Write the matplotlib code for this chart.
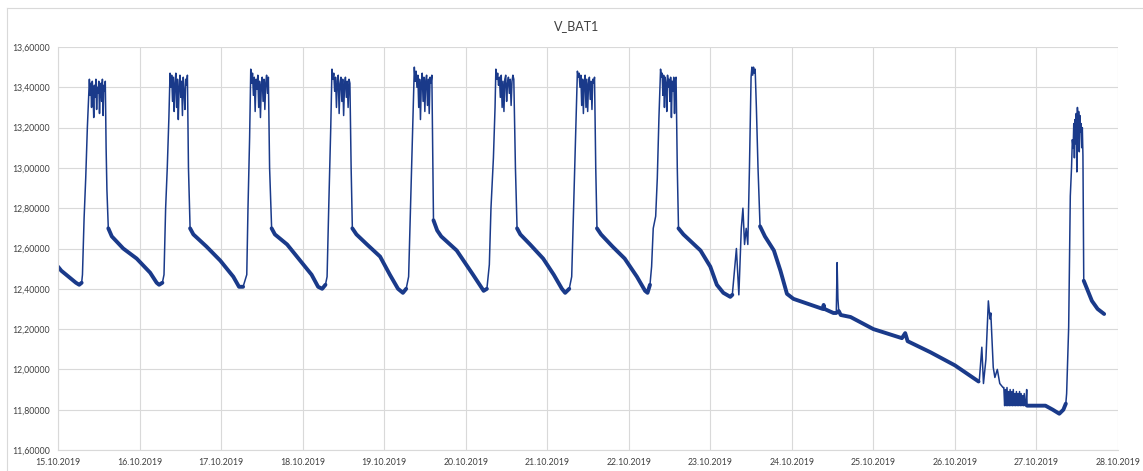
"""
V_BAT1 battery voltage trace, 15.10.2019 - 28.10.2019.
"""
import numpy as np
import matplotlib
matplotlib.use("Agg")
import matplotlib.pyplot as plt
from matplotlib.lines import Line2D

# x values are days since 15.10.2019 00:00, y values are volts

# slow part of the curve (discharge slopes, rises, spikes)
base_t = [
    0.00, 0.04, 0.10, 0.16, 0.22, 0.26, 0.29, 0.30, 0.32, 0.34, 0.36,
    0.59, 0.60, 0.617, 0.66, 0.80, 0.965, 1.13, 1.21, 1.24, 1.28, 1.30, 1.32, 1.34, 1.36,
    1.60, 1.62, 1.66, 1.82, 1.99, 2.15, 2.22, 2.27, 2.315, 2.33, 2.35,
    2.595, 2.62, 2.66, 2.81, 2.95, 3.11, 3.19, 3.24, 3.28, 3.30, 3.32, 3.345,
    3.595, 3.61, 3.66, 3.79, 3.95, 4.07, 4.17, 4.23, 4.27, 4.30, 4.32, 4.35,
    4.605, 4.65, 4.70, 4.89, 5.09, 5.22, 5.26, 5.29, 5.31, 5.34, 5.36,
    5.61, 5.63, 5.67, 5.79, 5.95, 6.08, 6.18, 6.22, 6.27, 6.30, 6.32, 6.35,
    6.595, 6.61, 6.66, 6.80, 6.95, 7.10, 7.20, 7.23, 7.26, 7.28, 7.30, 7.33, 7.35, 7.37,
    7.595, 7.61, 7.67, 7.88, 8.00, 8.08, 8.16, 8.245, 8.27, 8.32, 8.35, 8.38, 8.40,
    8.42, 8.44, 8.46, 8.48, 8.50, 8.51, 8.52, 8.53, 8.54, 8.55, 8.565, 8.585, 8.61,
    8.67, 8.78, 8.86, 8.94, 9.02, 9.31, 9.38, 9.39, 9.40, 9.51, 9.545, 9.555, 9.565,
    9.575, 9.60, 9.72, 10.00, 10.35, 10.39, 10.42, 10.70, 11.00, 11.29, 11.30, 11.33,
    11.35, 11.38, 11.41, 11.43, 11.44, 11.47, 11.49, 11.52, 11.55, 11.59,
    11.87, 11.88, 11.885, 12.11, 12.20, 12.28, 12.33, 12.36, 12.37, 12.395, 12.415,
    12.43, 12.44,
    12.58, 12.61, 12.68, 12.75, 12.83,
]
base_v = [
    12.51, 12.49, 12.47, 12.45, 12.43, 12.42, 12.43, 12.47, 12.75, 12.95, 13.20,
    13.10, 12.89, 12.70, 12.66, 12.60, 12.55, 12.48, 12.43, 12.42, 12.43, 12.47, 12.80, 13.00, 13.25,
    13.00, 12.70, 12.67, 12.61, 12.54, 12.46, 12.41, 12.41, 12.47, 12.80, 13.15,
    13.00, 12.70, 12.67, 12.62, 12.55, 12.47, 12.41, 12.40, 12.42, 12.46, 12.80, 13.20,
    13.00, 12.70, 12.67, 12.62, 12.56, 12.47, 12.40, 12.38, 12.40, 12.46, 12.75, 13.20,
    12.74, 12.69, 12.66, 12.59, 12.47, 12.39, 12.40, 12.52, 12.80, 13.05, 13.30,
    13.00, 12.70, 12.67, 12.62, 12.55, 12.47, 12.40, 12.38, 12.40, 12.46, 12.75, 13.20,
    13.00, 12.70, 12.67, 12.61, 12.55, 12.46, 12.39, 12.38, 12.42, 12.51, 12.70, 12.76, 12.95, 13.25,
    13.00, 12.70, 12.67, 12.59, 12.51, 12.42, 12.38, 12.36, 12.37, 12.60, 12.37, 12.70, 12.80,
    12.62, 12.70, 12.62, 13.00, 13.45, 13.50, 13.46, 13.50, 13.47, 13.49, 13.30, 13.00, 12.71,
    12.66, 12.59, 12.49, 12.375, 12.35, 12.31, 12.30, 12.32, 12.30, 12.28, 12.28, 12.53, 12.35,
    12.29, 12.27, 12.26, 12.20, 12.155, 12.18, 12.14, 12.085, 12.02, 11.94, 11.95, 12.11,
    11.93, 12.05, 12.34, 12.25, 12.28, 12.01, 11.96, 12.00, 11.93, 11.91,
    11.82, 11.90, 11.82, 11.82, 11.80, 11.78, 11.80, 11.83, 11.88, 12.21, 12.86,
    13.00, 13.14,
    12.44, 12.41, 12.34, 12.30, 12.275,
]

# charging plateaus (noisy top of each cycle): start day, end day, values
plateau_start = [0.385, 1.374, 2.364, 3.36, 4.37, 5.37, 6.37, 7.39]
plateau_end = [0.58, 1.587, 2.58, 3.58, 4.585, 5.59, 6.58, 7.58]
plateau_values = [
    [13.44, 13.36, 13.42, 13.30, 13.43, 13.38, 13.25, 13.41, 13.35, 13.44, 13.29, 13.40,
     13.37, 13.43, 13.27, 13.39, 13.42, 13.33, 13.44, 13.26, 13.41, 13.38, 13.43],
    [13.47, 13.40, 13.46, 13.33, 13.45, 13.28, 13.42, 13.47, 13.30, 13.44, 13.24, 13.40,
     13.46, 13.35, 13.43, 13.26, 13.45, 13.38, 13.29, 13.44, 13.41, 13.46],
    [13.49, 13.42, 13.47, 13.36, 13.45, 13.28, 13.44, 13.39, 13.46, 13.30, 13.43, 13.25,
     13.41, 13.45, 13.33, 13.44, 13.29, 13.42, 13.46, 13.37, 13.45],
    [13.49, 13.44, 13.47, 13.38, 13.45, 13.30, 13.43, 13.46, 13.27, 13.42, 13.45, 13.33,
     13.44, 13.26, 13.41, 13.45, 13.35, 13.43, 13.30, 13.44, 13.42],
    [13.50, 13.43, 13.48, 13.40, 13.46, 13.30, 13.44, 13.24, 13.42, 13.47, 13.33, 13.45,
     13.28, 13.43, 13.46, 13.31, 13.44, 13.27, 13.45, 13.42, 13.46],
    [13.49, 13.44, 13.47, 13.41, 13.45, 13.35, 13.46, 13.30, 13.43, 13.28, 13.44, 13.46,
     13.33, 13.42, 13.45, 13.37, 13.44, 13.31, 13.43, 13.46, 13.44],
    [13.48, 13.45, 13.47, 13.40, 13.46, 13.31, 13.44, 13.27, 13.43, 13.46, 13.30, 13.44,
     13.28, 13.42, 13.45, 13.34, 13.43, 13.29, 13.44, 13.42, 13.45],
    [13.49, 13.45, 13.47, 13.36, 13.46, 13.30, 13.45, 13.42, 13.28, 13.46, 13.40, 13.44,
     13.33, 13.45, 13.25, 13.43, 13.38, 13.45, 13.27, 13.44, 13.45],
]

# clipped section on 26.10 (logger floor at 11.82 V)
clip_start, clip_end = 11.60, 11.86
clip_values = [11.91, 11.82, 11.90, 11.82, 11.91, 11.82, 11.89, 11.82, 11.90, 11.82,
               11.89, 11.82, 11.90, 11.82, 11.88, 11.82, 11.89, 11.82, 11.88, 11.82,
               11.89, 11.82, 11.88, 11.82, 11.87, 11.82, 11.88, 11.82]

# last charge on 27.10
peak_start, peak_end = 12.45, 12.57
peak_values = [13.10, 13.22, 13.05, 13.24, 13.12, 13.27, 12.98, 13.30, 13.15, 13.28,
               13.08, 13.26, 13.18, 13.22, 13.10, 13.20, 13.06]

# stretches where the sampled noise makes the trace look like a wide band
band_start = [0.00, 0.617, 1.62, 2.62, 3.61, 4.605, 5.63, 6.61, 7.61, 8.61, 9.575, 11.885, 12.58]
band_end = [0.29, 1.28, 2.27, 3.28, 4.27, 5.26, 6.27, 7.26, 8.27, 9.545, 11.29, 12.36, 12.83]

day_labels = ["15.10.2019", "16.10.2019", "17.10.2019", "18.10.2019", "19.10.2019",
              "20.10.2019", "21.10.2019", "22.10.2019", "23.10.2019", "24.10.2019",
              "25.10.2019", "26.10.2019", "27.10.2019", "28.10.2019"]

# assemble the trace
t_all = list(base_t)
v_all = list(base_v)
for t0, t1, vals in zip(plateau_start, plateau_end, plateau_values):
    t_all += list(np.linspace(t0, t1, len(vals)))
    v_all += vals
t_all += list(np.linspace(clip_start, clip_end, len(clip_values)))
v_all += clip_values
t_all += list(np.linspace(peak_start, peak_end, len(peak_values)))
v_all += peak_values
order = np.argsort(t_all, kind="stable")
t_all = np.array(t_all)[order]
v_all = np.array(v_all)[order]

in_band = np.zeros(len(t_all), dtype=bool)
for a, b in zip(band_start, band_end):
    in_band |= (t_all >= a - 1e-9) & (t_all <= b + 1e-9)

plt.rcParams['font.family'] = ['Lato', 'DejaVu Sans']
text_color = '#404040'
grid_color = '#d9d9d9'
line_color = '#1a3a8a'

fig = plt.figure(figsize=(11.43, 4.71), dpi=100)
ax = fig.add_axes([58 / 1143, 1 - 450 / 471, 1060 / 1143, 403 / 471])

# thin trace everywhere, the noisy discharge band drawn thicker on top
ax.plot(t_all, v_all, color=line_color, linewidth=1.1, solid_joinstyle='round')
ax.plot(t_all, np.ma.masked_where(~in_band, v_all), color=line_color, linewidth=2.8,
        solid_joinstyle='round', solid_capstyle='round')

ax.set_xlim(0, 13)
ax.set_ylim(11.6, 13.6)
ax.set_xticks(range(len(day_labels)))
ax.set_xticklabels(day_labels)
yticks = np.arange(11.6, 13.61, 0.2)
ax.set_yticks(yticks)
ax.set_yticklabels([f"{v:.5f}".replace('.', ',') for v in yticks])
ax.tick_params(length=0, labelsize=6.3, labelcolor=text_color)
ax.tick_params(axis='y', pad=6)
ax.tick_params(axis='x', pad=6)

ax.grid(True, color=grid_color, linewidth=0.8)
ax.set_axisbelow(True)
for side in ['top', 'right']:
    ax.spines[side].set_visible(False)
for side in ['left', 'bottom']:
    ax.spines[side].set_color(grid_color)
    ax.spines[side].set_linewidth(0.8)

fig.text(577 / 1143, 1 - 26 / 471, "V_BAT1", ha='center', va='center',
         fontsize=9, color=text_color)

# chart area border (left and top edges visible in the crop)
fig.add_artist(Line2D([7 / 1143, 7 / 1143], [0, 1 - 8 / 471], transform=fig.transFigure,
                      color=grid_color, linewidth=0.8))
fig.add_artist(Line2D([7 / 1143, 1], [1 - 8 / 471, 1 - 8 / 471], transform=fig.transFigure,
                      color=grid_color, linewidth=0.8))

fig.savefig("out.png", dpi=100, facecolor='white')
